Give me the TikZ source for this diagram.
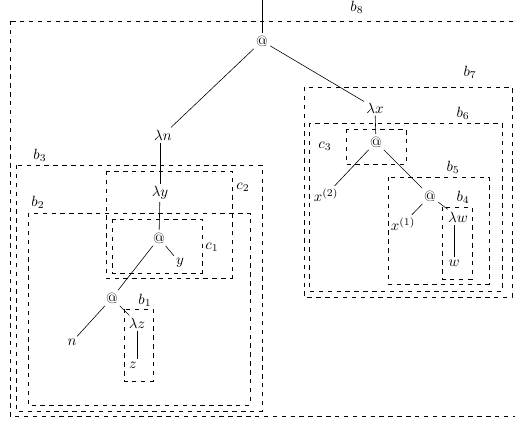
\documentclass[tikz,border=0pt]{standalone}
\usepackage{amsmath,amssymb}
\usepackage{tikz}
\usetikzlibrary{positioning,calc}

\begin{document}
\begin{tikzpicture}[x=0.675pt, y=-0.675pt,
  tm/.style={inner sep=1.5pt},
  box/.style={dashed},
  lbl/.style={inner sep=0pt}]
  \useasboundingbox (0,0) rectangle (515,424);
  \clip (0,0) rectangle (515,424);
  % term nodes
  \coordinate (top) at (262,0);
  \node[tm] (a1) at (262,41) {@};
  \node[tm] (ln) at (163,135) {$\lambda n$};
  \node[tm] (lx) at (375,108) {$\lambda x$};
  \node[tm] (a2) at (376,142) {@};
  \node[tm] (x2) at (326,195) {$x^{(2)}$};
  \node[tm] (a3) at (430,196) {@};
  \node[tm] (x1) at (403,224) {$x^{(1)}$};
  \node[tm] (lw) at (458,217) {$\lambda w$};
  \node[tm] (w)  at (454,263) {$w$};
  \node[tm] (ly) at (160,193) {$\lambda y$};
  \node[tm] (a4) at (159,238) {@};
  \node[tm] (y)  at (180,263) {$y$};
  \node[tm] (a5) at (112,298) {@};
  \node[tm] (n)  at (72,342) {$n$};
  \node[tm] (lz) at (137,323) {$\lambda z$};
  \node[tm] (z)  at (133,365) {$z$};
  % edges
  \draw (top) -- (a1);
  \draw (a1) -- (ln);
  \draw (a1) -- (lx);
  \draw (lx) -- (a2);
  \draw (a2) -- (x2);
  \draw (a2) -- (a3);
  \draw (a3) -- (x1);
  \draw (a3) -- (lw);
  \draw (w.north) -- (w.north |- lw.south);
  \draw (ln.south -| ly.north) -- (ly);
  \draw (ly) -- (a4);
  \draw (a4) -- (y);
  \draw (a4) -- (a5);
  \draw (a5) -- (n);
  \draw (a5) -- (lz);
  \draw (lz.south) -- (lz.south |- z.north);
  % boxes
  \draw[box] (10,21) rectangle (520,416);
  \draw[box] (304,87) rectangle (512,297);
  \draw[box] (309,123) rectangle (502,291);
  \draw[box] (346,129) rectangle (406,164);
  \draw[box] (388,177) rectangle (489,284);
  \draw[box] (442,207) rectangle (472,279);
  \draw[box] (16,165) rectangle (262,411);
  \draw[box] (106,171) rectangle (232,278);
  \draw[box] (28,213) rectangle (250,405);
  \draw[box] (112,219) rectangle (202,273);
  \draw[box] (124,309) rectangle (153,381);
  % box labels
  \node[lbl] (lb8) at (357,7) {$b_8$};
  \node[lbl] (lb7) at (470,72) {$b_7$};
  \node[lbl] (lb6) at (463,113) {$b_6$};
  \node[lbl] (lb5) at (453,167) {$b_5$};
  \node[lbl] (lb4) at (463,197) {$b_4$};
  \node[lbl] (lc3) at (325,146) {$c_3$};
  \node[lbl] (lb3) at (40,155) {$b_3$};
  \node[lbl] (lc2) at (243,187) {$c_2$};
  \node[lbl] (lb2) at (38,202) {$b_2$};
  \node[lbl] (lc1) at (212,247) {$c_1$};
  \node[lbl] (lb1) at (145,300) {$b_1$};
\end{tikzpicture}
\end{document}
